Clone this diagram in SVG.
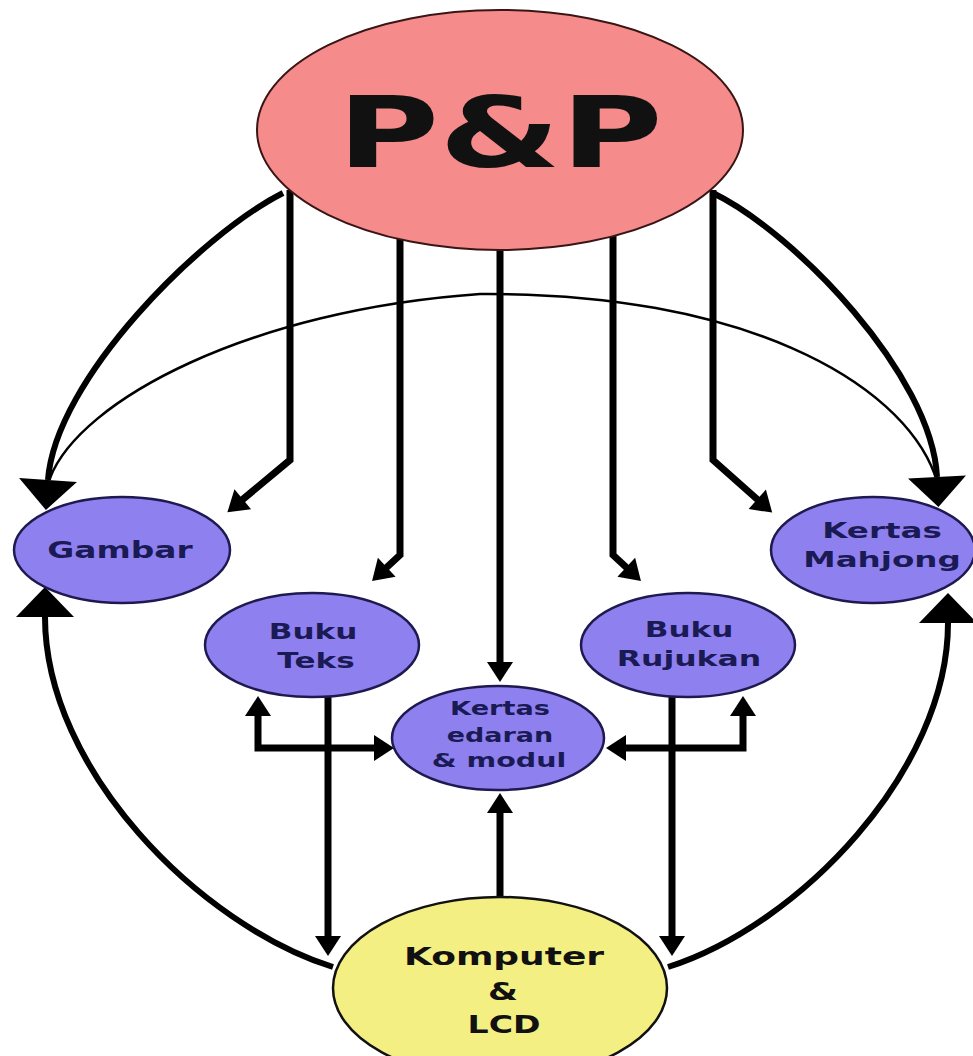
<svg xmlns="http://www.w3.org/2000/svg" width="973" height="1056" viewBox="0 0 973 1056">
<style>
.ln{fill:none;stroke:#000;stroke-width:7;stroke-linejoin:miter}
.arc{fill:none;stroke:#000;stroke-width:6}
.thin{fill:none;stroke:#000;stroke-width:2.5}
.pp{fill:#f58b8b;stroke:#3a1515;stroke-width:2}
.pu{fill:#8f80f0;stroke:#1e1a50;stroke-width:2.5}
.ye{fill:#f4ef82;stroke:#111;stroke-width:2.5}
text{font-family:"DejaVu Sans","Verdana",sans-serif;font-weight:bold;text-anchor:middle}
.tp{fill:#1a1a55}
.tk{fill:#111}
</style>
<defs>
<marker id="big" markerUnits="userSpaceOnUse" viewBox="0 -30 32 60" refX="0" refY="0" markerWidth="32" markerHeight="60" orient="auto" overflow="visible">
<path d="M0,-29 L30,0 L0,29 Z" fill="#000"/>
</marker>
<marker id="sm" markerUnits="userSpaceOnUse" viewBox="0 -14 20 28" refX="0" refY="0" markerWidth="20" markerHeight="28" orient="auto-start-reverse" overflow="visible">
<path d="M-1,-13 L19,0 L-1,13 Z" fill="#000"/>
</marker>
</defs>
<rect width="973" height="1056" fill="#fff"/>
<g id="connectors">
<path class="arc" d="M283,193 C200,235 55,380 48,480" marker-end="url(#big)"/>
<path class="arc" d="M713,193 C795,233 932,375 937,477" marker-end="url(#big)"/>
<path class="thin" d="M50,478 C80,400 250,310 480,294 C740,292 900,380 935,475"/>
<path class="arc" d="M333,967 C200,925 45,770 45,617" marker-end="url(#big)"/>
<path class="arc" d="M668,967 C800,925 948,770 948,623" marker-end="url(#big)"/>
<path class="ln" d="M290,190 L290,460 L242,500" marker-end="url(#sm)"/>
<path class="ln" d="M713,190 L713,460 L758,500" marker-end="url(#sm)"/>
<path class="ln" d="M400,235 L400,555 L386,568" marker-end="url(#sm)"/>
<path class="ln" d="M613,235 L613,555 L627,568" marker-end="url(#sm)"/>
<path class="ln" d="M500,245 L500,663" marker-end="url(#sm)"/>
<path class="ln" d="M328,697 L328,937" marker-end="url(#sm)"/>
<path class="ln" d="M672,697 L672,937" marker-end="url(#sm)"/>
<path class="ln" d="M258,715 L258,748 L375,748" marker-start="url(#sm)" marker-end="url(#sm)"/>
<path class="ln" d="M743,715 L743,748 L625,748" marker-start="url(#sm)" marker-end="url(#sm)"/>
<path class="ln" d="M500,897 L500,812" marker-end="url(#sm)"/>
</g>
<g id="node-pp">
<ellipse class="pp" cx="500" cy="130" rx="243" ry="120"/>
<text class="tk" font-size="98" transform="translate(500,167) scale(1.42,1)">P&amp;P</text>
</g>
<g id="node-gambar">
<ellipse class="pu" cx="122" cy="550" rx="108" ry="53"/>
<text class="tp" font-size="23" transform="translate(120,558) scale(1.43,1)">Gambar</text>
</g>
<g id="node-mahjong">
<ellipse class="pu" cx="873" cy="550" rx="102" ry="53"/>
<text class="tp" font-size="22" transform="translate(882,538) scale(1.48,1)">Kertas</text>
<text class="tp" font-size="22" transform="translate(882,567) scale(1.48,1)">Mahjong</text>
</g>
<g id="node-bukuteks">
<ellipse class="pu" cx="312" cy="645" rx="107" ry="52"/>
<text class="tp" font-size="21" transform="translate(313,639) scale(1.48,1)">Buku</text>
<text class="tp" font-size="21" transform="translate(316,668) scale(1.48,1)">Teks</text>
</g>
<g id="node-bukurujukan">
<ellipse class="pu" cx="688" cy="645" rx="107" ry="52"/>
<text class="tp" font-size="21" transform="translate(689,637) scale(1.48,1)">Buku</text>
<text class="tp" font-size="21" transform="translate(689,666) scale(1.5,1)">Rujukan</text>
</g>
<g id="node-kertasedaran">
<ellipse class="pu" cx="498" cy="738" rx="106" ry="52"/>
<text class="tp" font-size="19" transform="translate(500,715) scale(1.43,1)">Kertas</text>
<text class="tp" font-size="19" transform="translate(500,742) scale(1.42,1)">edaran</text>
<text class="tp" font-size="19" transform="translate(499,767) scale(1.5,1)">&amp; modul</text>
</g>
<g id="node-komputer">
<ellipse class="ye" cx="500" cy="988" rx="167" ry="91"/>
<text class="tk" font-size="24" transform="translate(504,965) scale(1.5,1)">Komputer</text>
<text class="tk" font-size="24" transform="translate(503,1000) scale(1.43,1)">&amp;</text>
<text class="tk" font-size="24" transform="translate(504,1033) scale(1.38,1)">LCD</text>
</g>
</svg>
